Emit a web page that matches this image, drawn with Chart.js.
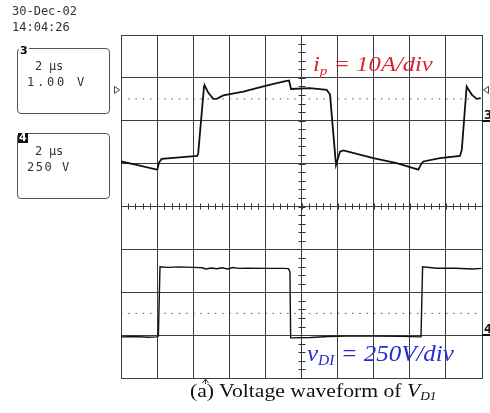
<!DOCTYPE html>
<html>
<head>
<meta charset="utf-8">
<script src="https://cdn.jsdelivr.net/npm/chart.js@4/dist/chart.umd.min.js"></script>
<style>
  body { margin: 0; background: #fff; }
  #wrap { position: relative; width: 490px; height: 413px; overflow: hidden; }
  #scope { position: absolute; left: 0; top: 0; }
  .mono { position: absolute; font-family: "DejaVu Sans Mono", monospace; color: #333; white-space: pre; }
  .stamp { left: 12px; top: 3px; font-size: 12px; line-height: 16px; }
  .chbox { position: absolute; left: 17px; width: 91px; height: 64px; border: 1px solid #555; border-radius: 4px; }
  .boxtxt { font-size: 12px; line-height: 16px; }
  .chnum { position: absolute; font-family: "DejaVu Sans", sans-serif; font-weight: bold; font-size: 11px; line-height: 10px; }
  .label { position: absolute; font-family: "Liberation Serif", "Times New Roman", serif; font-style: italic; white-space: nowrap; transform-origin: 0 0; }
  .label sub { font-size: 0.62em; vertical-align: -0.3em; }
  .caption { position: absolute; left: 190px; top: 380px; font-family: "Liberation Serif", "Times New Roman", serif; font-size: 19px; color: #111; white-space: nowrap; transform-origin: 0 0; transform: scaleX(1.14); }
  .caption sub { font-size: 0.62em; vertical-align: -0.25em; font-style: italic; }
</style>
</head>
<body>
<div id="wrap">
  <canvas id="scope" width="490" height="413"></canvas>
  <div class="mono stamp">30-Dec-02
14:04:26</div>

  <div class="chbox" style="top:48px"></div>
  <div class="chnum" style="left:19px;top:46px;background:#fff;padding:0 1px">3</div>
  <div class="mono boxtxt" style="left:35px;top:58px;letter-spacing:-0.2px">2 µs</div>
  <div class="mono boxtxt" style="left:27px;top:74px;letter-spacing:2.8px">1.00 V</div>

  <div class="chbox" style="top:133px"></div>
  <div class="chnum" style="left:18px;top:133px;background:#111;color:#fff;padding:0 1px">4</div>
  <div class="mono boxtxt" style="left:35px;top:143px;letter-spacing:-0.2px">2 µs</div>
  <div class="mono boxtxt" style="left:27px;top:159px;letter-spacing:1.5px">250 V</div>

  <div class="label" style="left:313px;top:52px;font-size:21px;color:#d8262b;transform:scaleX(1.17)">i<sub>p</sub> = 10A/div</div>
  <div class="label" style="left:307px;top:340px;font-size:24px;color:#2a2ad0;transform:scaleX(1.04)">v<sub>DI</sub> = 250V/div</div>

  <div class="caption">(a) Voltage waveform of <i>V</i><sub>D1</sub></div>
</div>

<script>
// time base: 2 us/div, 10 divisions
const timeTicks = [0, 2, 4, 6, 8, 10, 12, 14, 16, 18, 20];

// channel 3: primary current (A), 10 A/div
const currentTime = [0, 0.87, 1.98, 2.02, 2.1, 2.25, 3.08, 4.23, 4.28, 4.6, 4.64, 4.84, 5.11, 5.3, 5.67,
  6.78, 7.89, 8.63, 9.18, 9.31, 9.42, 10.47, 11.4, 11.58, 11.91, 12.13, 12.32, 13.98, 15.27, 16.47,
  16.66, 16.75, 17.67, 18.78, 18.88, 19.15, 19.43, 19.71, 19.93];
const currentAmps = [-9.5, -10.3, -11.4, -11.3, -9.8, -8.9, -8.6, -8.2, -7.5, 8.0, 8.2, 6.5, 5.1, 5.1, 5.9,
  6.8, 8.0, 8.8, 9.3, 9.4, 7.4, 7.6, 7.2, 6.1, -10.3, -7.2, -6.9, -8.7, -9.9, -11.4,
  -9.9, -9.5, -8.7, -8.2, -6.8, 8.0, 6.1, 5.1, 5.3];

// channel 4: diode voltage (V), 250 V/div
const voltageTime = [0, 0.8, 1.5, 1.98, 2.07, 2.16, 2.6, 3.2, 4.0, 4.5, 4.7, 5.0, 5.3, 5.6, 5.9, 6.2,
  6.5, 7.0, 8.0, 9.0, 9.27, 9.36, 9.4, 10.5, 11.5, 12.5, 14.0, 15.5, 16.62, 16.71, 17.5, 18.5, 19.5, 19.98];
const voltageVolts = [-10, -8, -12, -10, -6, 398, 395, 398, 395, 393, 386, 391, 387, 393, 386, 394,
  389, 390, 389, 389, 388, 370, -16, -14, -8, -6, -6, -7, -10, 398, 390, 390, 386, 389];

// reference levels shown as dotted traces
const currentLevel = 5.1;
const voltageLevel = 127;
const markerLevel = 7.2;
const triggerTime = 4.65;

const toPoints = (xs, ys) => xs.map((x, i) => ({ x, y: ys[i] }));

const scopeMarks = {
  id: 'scopeMarks',
  afterDatasetsDraw(chart) {
    const { ctx, chartArea: a, scales } = chart;
    const x = scales.x, y = scales.y;
    const cx = x.getPixelForValue(10);
    const cy = y.getPixelForValue(-20);
    ctx.save();
    ctx.strokeStyle = '#333';
    ctx.lineWidth = 1;
    ctx.beginPath();
    // minor ticks on the center cross, 5 per division
    for (let t = 0; t <= 20.001; t += 0.4) {
      const px = Math.round(x.getPixelForValue(t)) + 0.5;
      ctx.moveTo(px, cy - 3);
      ctx.lineTo(px, cy + 3);
    }
    for (let v = -60; v <= 20.001; v += 2) {
      const py = Math.round(y.getPixelForValue(v)) + 0.5;
      ctx.moveTo(cx - 3, py);
      ctx.lineTo(cx + 4, py);
    }
    ctx.stroke();

    // level markers on both edges
    const my = y.getPixelForValue(markerLevel);
    ctx.strokeStyle = '#444';
    ctx.beginPath();
    ctx.moveTo(a.left - 6.5, my - 3.5);
    ctx.lineTo(a.left - 1.5, my);
    ctx.lineTo(a.left - 6.5, my + 3.5);
    ctx.closePath();
    ctx.moveTo(a.right + 6.5, my - 3.5);
    ctx.lineTo(a.right + 1.5, my);
    ctx.lineTo(a.right + 6.5, my + 3.5);
    ctx.closePath();
    ctx.stroke();

    // channel ground markers
    ctx.fillStyle = '#111';
    ctx.font = 'bold 12px "DejaVu Sans", sans-serif';
    ctx.textBaseline = 'alphabetic';
    const g3 = y.getPixelForValue(0);
    const g4 = scales.yV.getPixelForValue(0);
    ctx.fillText('3', a.right + 2, g3 - 2);
    ctx.fillText('4', a.right + 2, g4 - 2);
    ctx.fillRect(a.right, Math.round(g3) - 1, 9, 2);
    ctx.fillRect(a.right, Math.round(g4) - 1, 9, 2);

    // trigger position arrow below the grid
    const tx = Math.round(x.getPixelForValue(triggerTime)) + 0.5;
    ctx.strokeStyle = '#333';
    ctx.beginPath();
    ctx.moveTo(tx - 3, a.bottom + 5);
    ctx.lineTo(tx, a.bottom + 1);
    ctx.lineTo(tx + 3, a.bottom + 5);
    ctx.moveTo(tx, a.bottom + 1);
    ctx.lineTo(tx, a.bottom + 6);
    ctx.stroke();
    ctx.restore();
  }
};

new Chart(document.getElementById('scope'), {
  type: 'line',
  data: {
    datasets: [
      {
        data: toPoints([0, 20], [currentLevel, currentLevel]),
        yAxisID: 'y',
        borderColor: '#555',
        borderWidth: 1,
        borderDash: [1.5, 5.72],
      },
      {
        data: toPoints([0, 20], [voltageLevel, voltageLevel]),
        yAxisID: 'yV',
        borderColor: '#555',
        borderWidth: 1,
        borderDash: [1.5, 5.72],
      },
      {
        label: 'i_p',
        data: toPoints(currentTime, currentAmps),
        yAxisID: 'y',
        borderColor: '#111',
        borderWidth: 1.8,
      },
      {
        label: 'v_D1',
        data: toPoints(voltageTime, voltageVolts),
        yAxisID: 'yV',
        borderColor: '#111',
        borderWidth: 1.4,
      },
    ],
  },
  options: {
    responsive: false,
    animation: false,
    layout: { padding: { left: 121, right: 8, top: 35, bottom: 35 } },
    elements: { point: { radius: 0 }, line: { tension: 0 } },
    plugins: { legend: { display: false }, tooltip: { enabled: false } },
    scales: {
      x: {
        type: 'linear',
        min: 0,
        max: 20,
        afterBuildTicks: (s) => { s.ticks = timeTicks.map((v) => ({ value: v })); },
        ticks: { display: false },
        grid: { color: '#3c3c3c', drawTicks: false },
        border: { color: '#3c3c3c' },
      },
      y: {
        min: -60,
        max: 20,
        ticks: { display: false, stepSize: 10 },
        grid: { color: '#3c3c3c', drawTicks: false },
        border: { color: '#3c3c3c' },
      },
      yV: {
        display: false,
        min: -250,
        max: 1750,
      },
    },
  },
  plugins: [scopeMarks],
});
</script>
</body>
</html>
